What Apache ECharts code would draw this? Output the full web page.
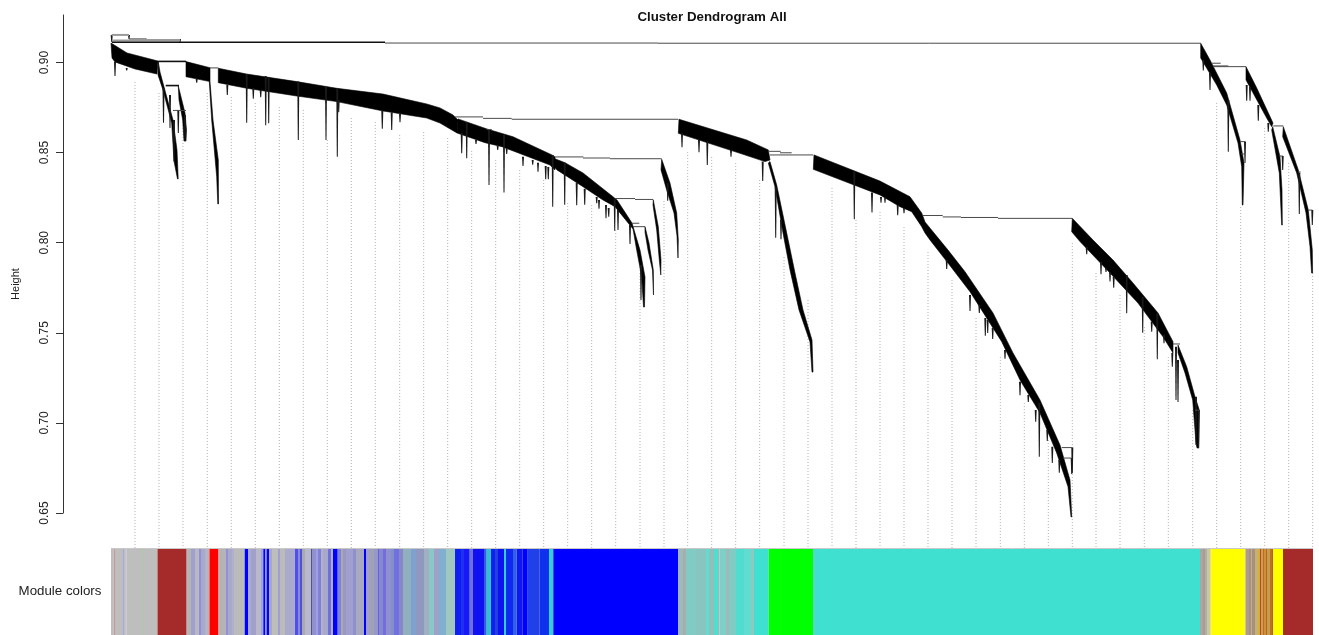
<!DOCTYPE html>
<html>
<head>
<meta charset="utf-8">
<style>html,body{margin:0;padding:0;background:#fff}#c{width:1319px;height:635px}</style>
<script src="https://cdn.jsdelivr.net/npm/echarts@6/dist/echarts.min.js"></script>
</head>
<body>
<div id="c"></div>
<script>
// Height axis ticks
const heightTicks = [0.65, 0.70, 0.75, 0.80, 0.85, 0.90];

// Dense branch bundles of the dendrogram: outlines as [leaf position, height]
const bandA = [[111,.9108],[127,.9053],[158,.9008],[157,.8936],[135,.8964],[115,.9003],[112,.9025]];
const bandB = [[186,.9005],[210,.8971],[210,.8894],[186,.8921]];
const bandC = [[218.3,.8968],[246.7,.8936],[296.7,.8894],[336.7,.8857],[383,.8825],[426.7,.8770],[440,.8748],[453,.8709],[458,.8681],[457,.8609],[440,.8664],[426.7,.8692],[383,.8731],[336.7,.8783],[296.7,.8814],[246.7,.8857],[218.3,.8888]];
const bandD = [[458,.8687],[487,.8631],[513,.8588],[552,.8487],[555,.8476],[555,.8404],[550,.8431],[502,.8533],[485,.8555],[457,.8609]];
const bandE = [[553,.8470],[565,.8444],[583,.8387],[613,.8255],[617,.8237],[632,.8109],[640,.7959],[645,.7810],[644.5,.7643],[643.5,.7643],[641.7,.7810],[636.7,.7959],[633,.8076],[615,.8200],[603,.8237],[583,.8311],[557,.8404],[553,.8430]];
const bandG = [[645,.8089],[649,.7998],[653.3,.7848],[653.5,.7710],[652.5,.7848],[648,.7959],[645,.8059]];
const bandH = [[653.3,.8237],[658.3,.8089],[661,.7904],[660.8,.7821],[659.3,.7904],[656.7,.8071],[653,.8209]];
const bandI = [[661.7,.8463],[670,.8331],[676.7,.8165],[678.3,.8015],[678,.7915],[677,.8037],[674,.8165],[666.7,.8292],[661,.8404]];
const bandJ = [[679,.8685],[746.7,.8570],[768.3,.8515],[770,.8459],[765,.8450],[740,.8496],[678.3,.8607]];
const bandK = [[770,.8450],[776.7,.8320],[786.7,.8054],[795,.7832],[803,.7627],[812,.7460],[813,.7282],[812,.7282],[810,.7449],[799,.7627],[790,.7849],[783,.8054],[775,.8311],[768.3,.8442]];
const bandL = [[814,.8487],[880,.8342],[910,.8255],[921.7,.8165],[925,.8115],[948,.7959],[965,.7839],[993,.7610],[1013,.7388],[1040,.7127],[1060,.6877],[1070,.6683],[1071.7,.6478],[1071,.6478],[1068,.6646],[1056.7,.6833],[1040,.7055],[1020,.7238],[1001.7,.7451],[970,.7728],[948,.7887],[930,.8015],[925,.8054],[921.7,.8089],[911.7,.8172],[900,.8200],[880,.8265],[813.3,.8407]];
const bandM = [[1072.3,.8135],[1093,.8015],[1113,.7904],[1133,.7776],[1158,.7610],[1173,.7451],[1173,.7388],[1163,.7478],[1138,.7665],[1110,.7832],[1080,.8006],[1071.7,.8061]];
const bandN = [[1178,.7432],[1186.7,.7312],[1195,.7145],[1199.3,.7071],[1198.5,.6861],[1197,.6861],[1196,.6888],[1192.7,.7127],[1185,.7277],[1178,.7388]];
const bandO = [[1200.7,.9107],[1210,.9014],[1226.7,.8831],[1240,.8570],[1244,.8442],[1243,.8209],[1242.3,.8209],[1241.7,.8422],[1238,.8553],[1226.7,.8764],[1216.7,.8875],[1200.7,.9025]];
const bandP = [[1246,.8977],[1256.7,.8859],[1273,.8664],[1271.7,.8644],[1266.7,.8692],[1246,.8903]];
const bandQ = [[1272.7,.8644],[1280,.8477],[1282,.8292],[1282.3,.8098],[1281.7,.8098],[1279.3,.8387],[1271.7,.8625]];
const bandR = [[1283.3,.8644],[1298.3,.8404],[1308.3,.8181],[1312.3,.7959],[1312.6,.7832],[1311.6,.7832],[1310,.7978],[1306,.8165],[1296.7,.8387],[1282.7,.8588]];
const bandS1 = [[158.3,.9003],[160,.8947],[166.7,.8810],[173,.8681],[177,.8514],[178.2,.8354],[177.5,.8354],[174,.8453],[171.7,.8664],[163,.8847],[158,.8931]];
const bandS2 = [[178.3,.8870],[185,.8720],[186.5,.8626],[186,.8564],[184,.8564],[182.7,.8681],[179,.8792]];
const bandT = [[210,.8894],[213,.8681],[218.3,.8459],[218.5,.8215],[217.8,.8215],[216.7,.8366],[211.7,.8681],[209.3,.8894]];
const bands = [bandA,bandB,bandC,bandD,bandE,bandG,bandH,bandI,bandJ,bandK,bandL,bandM,bandN,bandO,bandP,bandQ,bandR,bandS1,bandS2,bandT];

// Merges: [from, to, height]
const mergesHeavy = [[112,385,.9112],[158,186,.9006],[165.7,179,.8872]];
const mergesThin = [[385,658,.9108],[658,1200.7,.9107],[129,146.7,.9131],[455,483,.8698],[483,511.7,.8690],[511.7,678.3,.8685],[555,583.3,.8476],[583,610,.8470],[610,661.7,.8466],[615,635,.8245],[635,653.3,.8240],[631.7,639.3,.8108],[633,645,.8089],[768.3,780.7,.8507],[780,791.7,.8499],[770,813.3,.8487],[923,942.7,.8151],[942.7,961,.8143],[961,998,.8140],[998,1072.3,.8135],[1211.7,1220.7,.8996],[1213,1228.3,.8981],[1213,1246,.8977],[1273.3,1283.3,.8648],[173,186,.8734],[210,218.3,.8970],[486.7,491.7,.8628],[1240,1245,.8561],[1279.3,1282.7,.8481],[1298.3,1300.7,.8392],[1308.3,1312.3,.8181],[1061.7,1072.3,.6863],[1063,1071.7,.6805],[1173,1180,.7438],[1195,1199,.7071],[1241,1245,.8492]];
const mergesPale = [[112,180,.9122],[111.7,129,.9153],[146.7,180,.9125]];

// Hanging sub-branches: [leaf position, top height, bottom height]
const spikes = [[111.7,.9153,.9114],[129,.9153,.9131],[180,.9131,.9114],[115,.9003,.8925],[126.7,.8970,.8955],[163.5,.8859,.8666],[170,.8820,.8637],[178.3,.8737,.8609],[185,.8709,.8564],[174,.8681,.8450],[196.7,.8909,.8888],[227.3,.8875,.8820],[246.7,.8936,.8666],[253.3,.8859,.8799],[260.7,.8847,.8807],[265.7,.8925,.8652],[268.7,.8920,.8663],[298.3,.8894,.8570],[326,.8864,.8570],[337.3,.8859,.8477],[338.7,.8792,.8724],[382.3,.8731,.8633],[391.7,.8722,.8625],[400,.8714,.8668],[461.7,.8609,.8496],[466.7,.8670,.8468],[476,.8570,.8548],[489,.8625,.8320],[497.7,.8537,.8515],[504,.8598,.8278],[506.7,.8526,.8492],[523,.8477,.8426],[532.7,.8459,.8433],[538,.8444,.8394],[545.7,.8426,.8352],[548.3,.8420,.8352],[552.7,.8487,.8200],[564.7,.8444,.8211],[576.7,.8331,.8208],[584.7,.8300,.8211],[596.7,.8254,.8219],[599,.8237,.8189],[606,.8209,.8135],[608.7,.8193,.8144],[614.7,.8248,.8067],[618,.8181,.8070],[630,.8098,.7993],[641,.7876,.7682],[667.7,.8331,.8233],[682,.8607,.8530],[699,.8570,.8502],[707.3,.8561,.8431],[731,.8515,.8477],[762.7,.8450,.8342],[775.7,.8311,.8028],[781,.8126,.8019],[854.3,.8394,.8130],[872,.8278,.8167],[881,.8254,.8222],[885,.8254,.8222],[897.7,.8209,.8152],[904,.8193,.8163],[1203.3,.9014,.8955],[1210,.8942,.8847],[1228.3,.8792,.8505],[1246.7,.8875,.8788],[1250,.8864,.8788],[1258.3,.8764,.8677],[1268.3,.8664,.8616],[1299.3,.8387,.8159],[1312.3,.8181,.8098],[1245,.8561,.8442],[1282.7,.8481,.8404],[946.7,.7904,.7854],[970,.7710,.7621],[979.3,.7654,.7610],[985.3,.7582,.7484],[987.7,.7571,.7499],[992.7,.7527,.7466],[1005,.7404,.7356],[1020,.7229,.7153],[1028.3,.7155,.7116],[1035.7,.7071,.7007],[1039.3,.7110,.6812],[1047.3,.6960,.6899],[1052.3,.6868,.6777],[1059.3,.6794,.6724],[1071.7,.6805,.6716],[1072.3,.6863,.6722],[1086.7,.7976,.7936],[1101,.7893,.7825],[1106,.7860,.7837],[1110,.7837,.7784],[1113.7,.7811,.7750],[1126.7,.7821,.7608],[1142.7,.7700,.7500],[1151.7,.7562,.7506],[1157.3,.7610,.7353],[1164,.7488,.7442],[1172.3,.7388,.7312],[1176,.7423,.7127],[1178,.7349,.7116],[1196,.7145,.6877],[1198.7,.7071,.6859]];

// Dotted guide lines: leaf position and top height; all run down to guideBottom
const guideX = [135,159,183,207.3,231.3,255.3,279.3,303.3,327.3,351.3,375.3,399.7,423.7,447.7,471.7,495.7,519.7,543.7,567.7,591.7,615.7,640,664,687.7,711.7,735.7,759.7,784,808,832,856,880,904,928,952,976,1000.3,1024.3,1048.3,1072.3,1096,1120,1144.3,1168.3,1192.7,1216.7,1240.7,1264.7,1288.7,1312.7];
const guideTop = [.8892,.8831,.8720,.8831,.8809,.8775,.8753,.8737,.8570,.8692,.8670,.8598,.8614,.8581,.8509,.8459,.8403,.8348,.8220,.8209,.8070,.7865,.8231,.8503,.8476,.8442,.8348,.7921,.7682,.8304,.8126,.8170,.8087,.7948,.7793,.7582,.7366,.7110,.6905,.7998,.7832,.7710,.7532,.7366,.7071,.8775,.8198,.8637,.8442,.7832];
const guideBottom = 0.6306;

// Module colour strip: left edge of each run, its colour, and the strip's end
const moduleEdges = [111,113.7,115,123,124,125.5,126.3,143,144,157.5,186,187.7,191,195,199,201,205,208,209.5,218.5,226,228,232,234,244.7,248,251,256,261,263.3,265.3,266.7,269,272,278,280,285,295,298,300,302,305,311,312,316,318,321,323,328,331,333,
 337.7,341,343,346,353,356,364,366,369,374,378,379,383,386,391,394,399,403,411,416,424,429,434,439,446,455,461,464,469,470,472.7,484,486.7,491,495,498,504,506,513,516.7,522.7,527.7,539.7,549,551,553.3,
 678,683,686,696,706,709,714,718,719.5,726,729,736,744,751,754,768.7,813,816,
 1200,1203,1205,1207,1210.7,1245,1246,1249,1251,1252,1255,1258,1260,1261,1263,1264,1266,1267,1270,1272,1273,1283];
const moduleColors = ['#bebebe','#c79a9a','#bebebe','#aaaad8','#bebebe','#aaaad8','#bebebe','#a8cca8','#bebebe','#a52a2a','#b09090','#b4b4b4','#a0a0cc','#b8b8c4','#9090d8','#a8a8cc','#b4b4c8','#c0b0b0','#ff0000','#b4b4b4','#9090dc','#a8a8c8','#b0b0cc','#bbbbbb','#0000ff','#aaaacc','#a0a0c8','#b8b8c8','#a0a0dc','#0000ff','#8888e0','#0000ff','#a8a8c0','#bdbdbd','#a0a0d0','#bbbbbb','#aaaacc','#5050e8','#8888dd','#5050e0','#aaaaaa','#b8b8d0','#555577','#9090d0','#a0a0e0','#8080d8','#b0b0cc','#a8a8c8','#7070dd','#b0b0cc','#0000ff',
 '#8080e0','#aaaaaa','#9898c0','#a0a0d0','#9090cc','#a8a8c0','#0000ff','#a0a0c8','#a0a0b8','#9898c8','#6060e0','#8888d0','#7070d8','#9090d0','#8090c8','#7070e0','#8888c8','#90b0c0','#80a0d0','#9098c0','#a0b0c0','#88c8c8','#a0a0c8','#80b0d0','#a0c8c0','#1020f0','#2030f0','#1818f8','#5060e8','#7070d0','#1010f0','#3060e0','#30c0d0','#1020f0','#2040e0','#1010f0','#30d0d0','#1028f0','#3060e8','#1018f0','#0000ff','#2040e8','#1030f0','#30d0d0','#30d0d0','#0000ff',
 '#a0b8b8','#a8aeae','#80ccc4','#8ac4c0','#60dcd0','#90c0bc','#50dccf','#a0b8b8','#7cd0c8','#a0b8b8','#80ccc4','#50dccf','#60dcd0','#90c8c0','#40e0d0','#00ff00','#50d8cc','#40e0d0',
 '#a8a8a0','#aa9a9a','#b0b0a0','#c8c8a8','#ffff00','#c8c8a0','#b09a90','#a8908a','#c0b080','#a89080','#c8b070','#d0b040','#c04040','#d0a040','#b07030','#d09030','#c06030','#c0a050','#c07020','#b06020','#ffff00','#a52a2a'];
const moduleEnd = 1313;

const titleText = 'Cluster Dendrogram All';
const heightText = 'Height';
const moduleText = 'Module colors';

const FONT = '"Liberation Sans", Arial, sans-serif';

function segmentSeries(list, stroke, width) {
  return {
    type: 'custom', xAxisIndex: 0, yAxisIndex: 0, silent: true, z: 3, clip: false,
    data: list,
    renderItem: function (p, api) {
      const a = api.coord([api.value(0), api.value(2)]);
      const b = api.coord([api.value(1), api.value(2)]);
      return { type: 'line', shape: { x1: a[0], y1: a[1], x2: b[0], y2: b[1] }, style: { stroke: stroke, lineWidth: width, fill: null } };
    }
  };
}

const option = {
  animation: false,
  backgroundColor: '#ffffff',
  grid: [
    { left: 63, top: 15, width: 1256, height: 498 },
    { left: 63, top: 549, width: 1256, height: 86 }
  ],
  xAxis: [
    { type: 'value', gridIndex: 0, min: 63, max: 1319, show: false },
    { type: 'value', gridIndex: 1, min: 63, max: 1319, show: false }
  ],
  yAxis: [
    {
      type: 'value', gridIndex: 0, min: 0.65, max: 0.92636,
      splitLine: { show: false },
      axisLine: { show: true, lineStyle: { color: '#333', width: 1 } },
      axisTick: { show: true, length: 7, lineStyle: { color: '#333' }, customValues: heightTicks },
      axisLabel: {
        rotate: 90, margin: 12, fontFamily: FONT, fontSize: 12, color: '#222',
        customValues: heightTicks, formatter: function (v) { return Number(v).toFixed(2); }
      }
    },
    { type: 'value', gridIndex: 1, min: 0, max: 1, show: false }
  ],
  graphic: [
    { type: 'text', x: 712, y: 17, silent: true, style: { text: titleText, font: 'bold 13.3px ' + FONT, fill: '#111', textAlign: 'center', textVerticalAlign: 'middle' } },
    { type: 'text', x: 16, y: 284, rotation: Math.PI / 2, silent: true, style: { text: heightText, font: '11px ' + FONT, fill: '#222', textAlign: 'center', textVerticalAlign: 'middle' } },
    { type: 'text', x: 60, y: 591, silent: true, style: { text: moduleText, font: '13.3px ' + FONT, fill: '#222', textAlign: 'center', textVerticalAlign: 'middle' } }
  ],
  series: [
    {
      type: 'custom', xAxisIndex: 0, yAxisIndex: 0, silent: true, z: 1, clip: false,
      data: guideX.map(function (x, i) { return [x, guideTop[i], guideBottom]; }),
      renderItem: function (p, api) {
        const a = api.coord([api.value(0), api.value(1)]);
        const b = api.coord([api.value(0), api.value(2)]);
        return { type: 'line', shape: { x1: a[0], y1: a[1], x2: b[0], y2: b[1] }, style: { stroke: '#b0b0b0', lineWidth: 1, lineDash: [1, 2], fill: null } };
      }
    },
    {
      type: 'custom', xAxisIndex: 0, yAxisIndex: 0, silent: true, z: 2, clip: false,
      data: bands.map(function (b, i) { return [b[0][0], b[0][1], i]; }),
      renderItem: function (p, api) {
        const pts = bands[api.value(2)].map(function (d) { return api.coord(d); });
        return { type: 'polygon', shape: { points: pts }, style: { fill: '#000', stroke: '#000', lineWidth: 0.6 } };
      }
    },
    {
      type: 'custom', xAxisIndex: 0, yAxisIndex: 0, silent: true, z: 3, clip: false,
      data: spikes,
      renderItem: function (p, api) {
        const a = api.coord([api.value(0), api.value(1)]);
        const b = api.coord([api.value(0), api.value(2)]);
        return { type: 'polygon', shape: { points: [[a[0] - 1, a[1]], [a[0] + 1, a[1]], [b[0] + 0.5, b[1]], [b[0] - 0.5, b[1]]] }, style: { fill: '#1a1a1a' } };
      }
    },
    segmentSeries(mergesPale, '#9a9a9a', 2),
    segmentSeries(mergesThin, '#4a4a4a', 1),
    segmentSeries(mergesHeavy, '#111111', 1.6),
    {
      type: 'custom', xAxisIndex: 1, yAxisIndex: 1, silent: true, z: 2, clip: false,
      data: moduleEdges.map(function (x, i) {
        return [x, i + 1 < moduleEdges.length ? moduleEdges[i + 1] : moduleEnd, i];
      }),
      renderItem: function (p, api) {
        const a = api.coord([api.value(0), 1]);
        const b = api.coord([api.value(1), 0]);
        return { type: 'rect', shape: { x: a[0], y: a[1], width: b[0] - a[0], height: b[1] - a[1] }, style: { fill: moduleColors[api.value(2)] } };
      }
    },
    {
      type: 'custom', xAxisIndex: 1, yAxisIndex: 1, silent: true, z: 3, clip: false,
      data: [[moduleEdges[0], moduleEnd]],
      renderItem: function (p, api) {
        const a = api.coord([api.value(0), 1]);
        const b = api.coord([api.value(1), 1]);
        return { type: 'line', shape: { x1: a[0], y1: a[1] - 0.5, x2: b[0], y2: b[1] - 0.5 }, style: { stroke: '#c8c8c8', lineWidth: 1, fill: null } };
      }
    }
  ]
};

const chart = echarts.init(document.getElementById('c'), null, { renderer: 'canvas' });
chart.setOption(option);
</script>
</body>
</html>
